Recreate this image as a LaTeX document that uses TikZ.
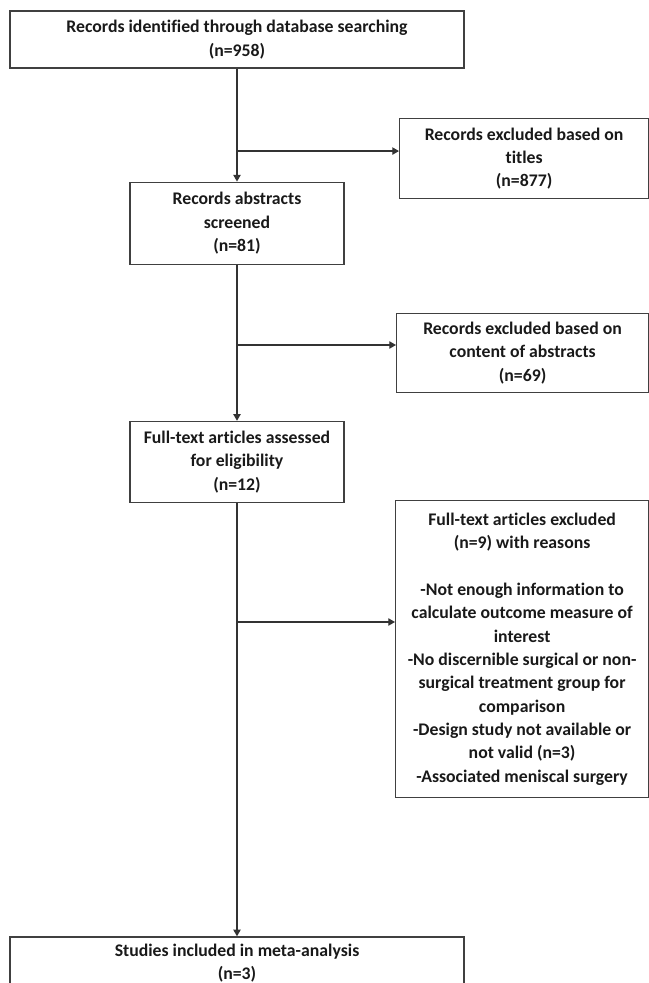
\documentclass[tikz,border=0pt]{standalone}
\usepackage{fontspec}
\setmainfont[Ligatures=NoCommon]{Carlito}
\usetikzlibrary{arrows.meta, positioning, calc}

\begin{document}
\begin{tikzpicture}[
    node distance=84.75pt,
    box/.style={rectangle, draw=black!75, line width=0.9pt, text=black!90, align=center, inner sep=2pt, font=\bfseries\fontsize{13.3}{17.5}\selectfont},
    arrow/.style={-{Triangle[length=5pt, width=5.5pt]}, draw=black!80, line width=0.9pt}
]
    \useasboundingbox (0,0) rectangle (486.75pt,-737.25pt);

    % Main column
    \node[box, minimum width=340.5pt, minimum height=42.75pt] (rec) at (177.75pt,-29.6pt) {Records identified through database searching \\ (n=958)};
    \node[box, minimum width=160.5pt, minimum height=61.5pt, below=84.75pt of rec] (abs) {Records abstracts \\ screened \\ (n=81)};
    \node[box, minimum width=160.5pt, minimum height=61pt, below=117pt of abs] (full) {Full-text articles assessed \\ for eligibility \\ (n=12)};
    \node[box, minimum width=340.5pt, minimum height=39pt, below=324.75pt of full] (incl) {Studies included in meta-analysis \\ (n=3)};

    % Excluded records (right column)
    \node[box, anchor=north west, minimum width=186.75pt, minimum height=60pt] (exttitle) at (299.25pt,-88.5pt) {Records excluded based on \\ titles \\ (n=877)};
    \node[box, anchor=north west, minimum width=189pt, minimum height=59.25pt] (extabs) at (297pt,-234.75pt) {Records excluded based on \\ content of abstracts \\ (n=69)};
    \node[box, anchor=north west, minimum width=189.75pt, minimum height=222.75pt] (extfull) at (296.25pt,-375pt) {Full-text articles excluded \\ (n=9) with reasons \\[17.5pt]
        -Not enough information to \\ calculate outcome measure of \\ interest \\
        -No discernible surgical or non- \\ surgical treatment group for \\ comparison \\
        -Design study not available or \\ not valid (n=3) \\
        -Associated meniscal surgery};

    % Branch points on the main line
    \coordinate (b1) at ($(rec.south)!0.73!(abs.north)$);
    \coordinate (b2) at (abs.south |- 0,-258.75pt);
    \coordinate (b3) at (full.south |- 0,-466.5pt);

    % Connections
    \draw[arrow] (rec) -- (abs);
    \draw[arrow] (abs) -- (full);
    \draw[arrow] (full) -- (incl);

    \draw[arrow] (b1) -- (b1 -| exttitle.west);
    \draw[arrow] (b2) -- (b2 -| extabs.west);
    \draw[arrow] (b3) -- (b3 -| extfull.west);

\end{tikzpicture}
\end{document}
